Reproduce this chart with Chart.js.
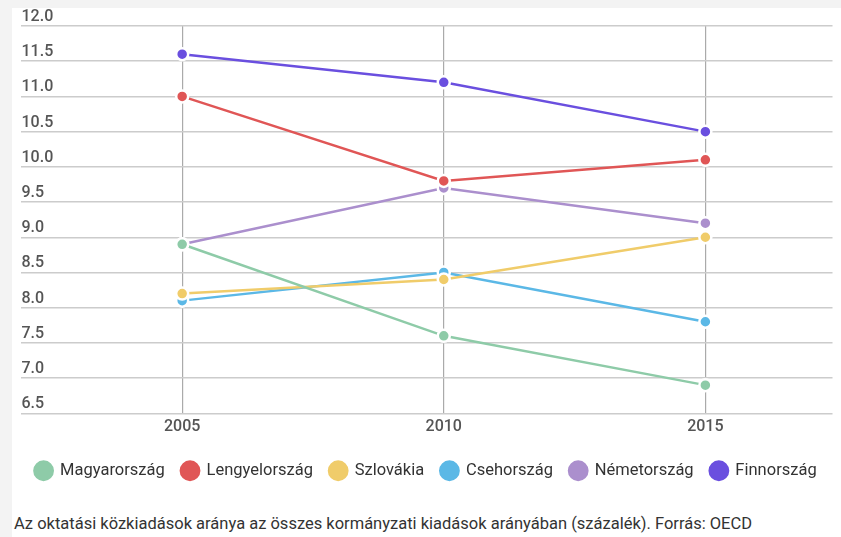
<!DOCTYPE html>
<html>
<head>
<meta charset="utf-8">
<script src="https://cdn.jsdelivr.net/npm/chart.js@4/dist/chart.umd.min.js"></script>
<style>
  html, body { margin: 0; padding: 0; background: #f3f3f3; }
  #card { position: absolute; left: 12px; top: 8px; width: 829px; height: 529px; background: #fff; }
  #wrap { position: absolute; left: 0; top: 0; width: 829px; height: 481px; }
  #note { position: absolute; left: 2px; top: 506px; font: 16.5px Roboto, sans-serif; color: #333; white-space: nowrap; }
</style>
</head>
<body>
<div id="card">
  <div id="wrap"><canvas id="chart"></canvas></div>
  <div id="note">Az oktatási közkiadások aránya az összes kormányzati kiadások arányában (százalék). Forrás: OECD</div>
</div>
<script>
// years on the x axis
var years = [2005, 2010, 2015];

// share of education in government spending, percent
var magyarorszag = [8.9, 7.6, 6.9];
var lengyelorszag = [11.0, 9.8, 10.1];
var szlovakia = [8.2, 8.4, 9.0];
var csehorszag = [8.1, 8.5, 7.8];
var nemetorszag = [8.9, 9.7, 9.2];
var finnorszag = [11.6, 11.2, 10.5];

var names = ['Magyarország', 'Lengyelország', 'Szlovákia', 'Csehország', 'Németország', 'Finnország'];
var colors = ['#8ecba8', '#e05656', '#f0cc6a', '#5bb8e6', '#ab8fcd', '#6a4fdf'];
var series = [magyarorszag, lengyelorszag, szlovakia, csehorszag, nemetorszag, finnorszag];

function toPoints(vals) {
  return vals.map(function(v, i) { return { x: years[i], y: v }; });
}

var datasets = series.map(function(vals, i) {
  return {
    label: names[i],
    data: toPoints(vals),
    borderColor: colors[i],
    backgroundColor: colors[i],
    borderWidth: 2.5,
    pointRadius: 6,
    pointBorderWidth: 2.5,
    pointBorderColor: '#fff',
    pointBackgroundColor: colors[i],
    tension: 0
  };
});

new Chart(document.getElementById('chart'), {
  type: 'line',
  data: { datasets: datasets },
  options: {
    responsive: true,
    maintainAspectRatio: false,
    animation: false,
    layout: { padding: { left: 2, right: 3, top: 18, bottom: 0 } },
    plugins: {
      tooltip: { enabled: false },
      legend: {
        position: 'bottom',
        labels: {
          usePointStyle: true,
          pointStyle: 'circle',
          boxWidth: 17,
          boxHeight: 17,
          padding: 17,
          color: '#333',
          font: { family: 'Roboto', size: 16.5 }
        }
      }
    },
    scales: {
      x: {
        type: 'linear',
        min: 2001.91,
        max: 2017.43,
        afterBuildTicks: function(scale) {
          scale.ticks = years.map(function(y) { return { value: y }; });
        },
        afterFit: function(scale) {
          scale.height += 5;
          scale.paddingLeft = 0;
          scale.paddingRight = 0;
        },
        grid: { color: '#aaa', lineWidth: 1.2, drawTicks: false },
        border: { display: false },
        ticks: {
          padding: 4,
          color: '#555',
          font: { family: 'Roboto', size: 16, weight: '500' },
          callback: function(v) { return String(v); }
        }
      },
      y: {
        min: 6.5,
        max: 12,
        afterFit: function(scale) { scale.width = 0; },
        grid: { color: '#ccc', lineWidth: 1.5, drawTicks: false },
        border: { display: false },
        ticks: {
          stepSize: 0.5,
          mirror: true,
          padding: 1,
          labelOffset: -9,
          color: '#555',
          font: { family: 'Roboto', size: 16, weight: '500' },
          callback: function(v) { return v.toFixed(1); }
        }
      }
    }
  }
});
</script>
</body>
</html>
